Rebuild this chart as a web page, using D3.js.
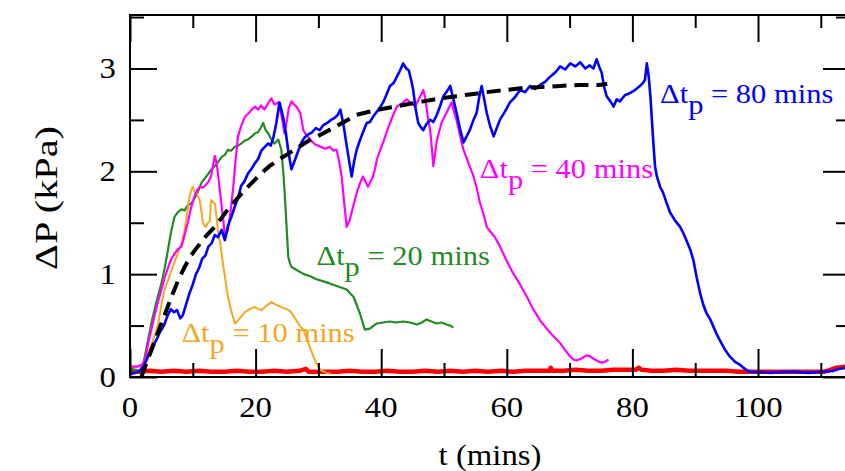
<!DOCTYPE html>
<html>
<head>
<meta charset="utf-8">
<script src="https://cdn.jsdelivr.net/npm/d3@7"></script>
<style>
  html, body { margin: 0; padding: 0; background: #fff; }
  svg { display: block; }
  svg text { font-family: "Liberation Serif", "Times New Roman", Times, serif; }
</style>
</head>
<body>
<div id="chart"></div>
<script>
// tick values
const xMajor = [0, 20, 40, 60, 80, 100, 120];
const xMinor = [10, 30, 50, 70, 90, 110];
const yMajor = [0, 1, 2, 3];
const yMinor = [0.5, 1.5, 2.5, 3.5];
const xLabels = [0, 20, 40, 60, 80, 100];

// series: [t (mins), dP (kPa)]
const red = [[0,0.06],[1.5,0.05],[3,0.06],[5,0.05],[7,0.06],[9,0.05],[11,0.06],[13,0.05],[15,0.05],[17,0.06],[19,0.05],[21,0.05],[23,0.06],[25,0.05],[27,0.06],[28,0.08],[28.5,0.05],[31,0.05],[33,0.05],[35,0.06],[37,0.05],[39,0.05],[41,0.06],[43,0.05],[45,0.05],[47,0.06],[49,0.05],[51,0.06],[53,0.05],[55,0.06],[57,0.05],[59,0.06],[61,0.05],[63,0.06],[65,0.06],[66.8,0.06],[67,0.09],[67.3,0.06],[69,0.06],[71,0.07],[73,0.06],[75,0.06],[77,0.07],[79,0.07],[80.5,0.07],[81,0.09],[81.5,0.07],[83,0.06],[85,0.06],[87,0.07],[89,0.06],[91,0.06],[93,0.06],[95,0.06],[97,0.05],[99,0.05],[101,0.05],[103,0.05],[105,0.05],[107,0.05],[109,0.05],[110.5,0.05],[111.5,0.07],[112.5,0.09],[114,0.1],[115,0.11]];

const orange = [[0,0.1],[1,0.1],[2,0.1],[2.5,0.15],[2.9,0.23],[3.5,0.33],[4,0.42],[4.5,0.52],[5,0.7],[5.5,0.85],[6.1,0.95],[6.6,1.04],[7.1,1.12],[7.6,1.2],[8.2,1.3],[8.7,1.43],[9.1,1.6],[9.5,1.76],[9.8,1.82],[10,1.85],[10.3,1.8],[10.6,1.79],[10.9,1.75],[11.1,1.72],[11.4,1.6],[11.6,1.5],[11.9,1.47],[12.1,1.46],[12.4,1.5],[12.7,1.51],[12.9,1.72],[13.2,1.7],[13.5,1.69],[13.8,1.55],[14,1.43],[14.3,1.33],[14.5,1.24],[14.8,1.1],[15.1,0.98],[15.4,0.86],[15.6,0.78],[16.1,0.65],[16.7,0.52],[17.2,0.55],[17.7,0.59],[18.3,0.63],[18.8,0.65],[19.4,0.67],[19.9,0.68],[20.4,0.66],[20.9,0.65],[21.7,0.69],[22.5,0.73],[23.3,0.7],[24.1,0.68],[24.9,0.66],[25.5,0.64],[26,0.6],[26.5,0.55],[27,0.5],[27.6,0.46],[28.4,0.33],[29.2,0.2],[29.8,0.12],[30.3,0.07],[31.3,0.04],[32,0.03]];

const green = [[0,0.08],[1,0.07],[1.5,0.05],[2.2,0.15],[3,0.4],[3.5,0.55],[4,0.68],[4.5,0.8],[5,0.91],[5.5,1.05],[6,1.22],[6.5,1.4],[7.1,1.56],[7.6,1.6],[8.2,1.63],[8.7,1.62],[9.2,1.67],[9.8,1.69],[10.3,1.74],[10.8,1.8],[11.4,1.89],[11.9,1.93],[12.4,1.97],[13,2.02],[13.5,2.05],[14,2.09],[14.6,2.14],[15.1,2.16],[15.6,2.21],[16.1,2.2],[16.7,2.24],[17.2,2.25],[17.7,2.27],[18.3,2.3],[18.8,2.31],[19.4,2.34],[19.9,2.37],[20.4,2.38],[20.8,2.42],[21.2,2.47],[21.6,2.4],[22,2.37],[22.5,2.31],[23,2.27],[23.6,2.31],[24.1,2.21],[24.4,2.0],[24.6,1.82],[24.9,1.5],[25.2,1.17],[25.5,1.1],[25.7,1.07],[26.3,1.05],[26.8,1.03],[27.7,1.0],[28.7,0.98],[29.7,0.95],[30.8,0.93],[31.8,0.91],[32.7,0.89],[33.6,0.87],[34.5,0.85],[35.1,0.81],[35.6,0.78],[36.1,0.7],[36.6,0.62],[37,0.54],[37.4,0.46],[38.2,0.47],[38.8,0.5],[39.3,0.52],[40.3,0.53],[41.4,0.54],[42.4,0.53],[43.5,0.54],[44.6,0.53],[45.7,0.51],[46.5,0.53],[47.2,0.56],[48,0.54],[48.8,0.52],[49.6,0.53],[50.4,0.51],[51,0.5],[51.5,0.48]];

const magenta = [[0,0.1],[1,0.1],[2,0.12],[2.5,0.2],[2.9,0.33],[3.4,0.46],[3.9,0.59],[4.4,0.72],[5,0.85],[5.5,0.96],[6.1,1.07],[6.6,1.15],[7.1,1.2],[7.6,1.24],[8.2,1.27],[8.7,1.38],[9.2,1.5],[9.7,1.64],[10.3,1.76],[10.7,1.82],[11.1,1.85],[11.6,1.84],[12.1,1.87],[12.5,1.9],[12.9,1.95],[13.2,2.05],[13.5,2.15],[13.8,2.08],[14,1.98],[14.3,1.82],[14.6,1.66],[14.9,1.5],[15.1,1.37],[15.4,1.4],[15.6,1.43],[16,1.6],[16.4,1.82],[16.8,2.1],[17.2,2.34],[17.7,2.44],[18.3,2.53],[18.8,2.56],[19.4,2.6],[19.9,2.63],[20.4,2.6],[20.9,2.64],[21.4,2.6],[22,2.66],[22.5,2.71],[23,2.65],[23.6,2.67],[24.1,2.55],[24.6,2.37],[25,2.5],[25.3,2.62],[25.7,2.68],[26.1,2.65],[26.5,2.63],[27.1,2.57],[27.6,2.4],[28.1,2.35],[28.7,2.31],[29.5,2.26],[30.3,2.24],[31.1,2.22],[31.8,2.24],[32.4,2.2],[32.9,2.21],[33.3,2.1],[33.7,1.95],[34.1,1.7],[34.5,1.46],[34.8,1.5],[35,1.53],[35.5,1.65],[36.1,1.79],[36.6,1.88],[37.1,1.95],[37.5,1.9],[37.9,1.85],[38.3,1.9],[38.7,1.95],[39,2.02],[39.3,2.11],[39.8,2.2],[40.3,2.28],[40.8,2.37],[41.4,2.47],[42,2.56],[42.5,2.63],[43.3,2.66],[44.1,2.7],[44.8,2.66],[45.4,2.63],[46,2.7],[46.7,2.79],[47,2.72],[47.2,2.63],[47.5,2.5],[47.8,2.4],[48.1,2.2],[48.3,2.05],[48.6,2.18],[48.8,2.28],[49.2,2.38],[49.6,2.47],[50,2.52],[50.4,2.57],[50.8,2.62],[51.2,2.67],[51.6,2.58],[52,2.5],[52.5,2.36],[53.1,2.21],[53.9,2.08],[54.7,1.95],[55.2,1.84],[55.7,1.7],[56.3,1.58],[56.8,1.46],[57.3,1.42],[58.1,1.36],[58.9,1.27],[59.9,1.14],[61,1.01],[62.1,0.9],[63.2,0.78],[64.2,0.66],[65.3,0.55],[66.1,0.49],[66.9,0.43],[67.7,0.38],[68.5,0.33],[69.3,0.26],[70.1,0.2],[70.6,0.17],[71.1,0.16],[71.9,0.18],[72.7,0.21],[73.3,0.2],[74,0.17],[74.6,0.15],[75.1,0.14],[75.7,0.15],[76.2,0.17]];

const blue = [[0,0.03],[0.8,0.04],[1.6,0.06],[2.3,0.12],[3,0.22],[3.6,0.3],[4.2,0.36],[4.8,0.44],[5.4,0.5],[6,0.6],[6.5,0.66],[7,0.63],[7.5,0.65],[8,0.57],[8.4,0.6],[9,0.72],[9.5,0.82],[10,0.9],[10.5,1.0],[11,1.06],[11.5,1.15],[12,1.18],[12.5,1.27],[13,1.3],[13.5,1.38],[14,1.36],[14.6,1.43],[15.1,1.33],[15.6,1.47],[16.1,1.55],[16.7,1.66],[17.2,1.74],[17.7,1.86],[18.2,1.9],[18.8,1.98],[19.3,2.02],[19.9,2.08],[20.4,2.12],[20.9,2.2],[21.5,2.24],[22,2.27],[22.4,2.25],[22.8,2.32],[23.3,2.47],[23.8,2.67],[24.1,2.6],[24.4,2.52],[24.8,2.38],[25.2,2.2],[25.7,2.02],[26.2,2.1],[26.8,2.2],[27.3,2.28],[27.8,2.33],[28.4,2.36],[29,2.38],[29.6,2.42],[30.2,2.4],[30.8,2.45],[31.4,2.47],[32,2.5],[32.6,2.52],[33.1,2.55],[33.5,2.6],[34,2.45],[34.5,2.25],[35,2.06],[35.3,1.95],[35.7,2.1],[36.1,2.21],[36.6,2.3],[37.1,2.38],[37.7,2.47],[38.2,2.48],[38.7,2.53],[39.3,2.58],[39.8,2.62],[40.3,2.67],[40.8,2.74],[41.4,2.83],[42,2.86],[42.5,2.92],[43,2.98],[43.5,3.05],[44,3.0],[44.4,2.98],[44.8,2.88],[45.1,2.79],[45.5,2.6],[45.9,2.47],[46.3,2.43],[46.7,2.4],[47.2,2.46],[47.8,2.5],[48.3,2.48],[48.8,2.54],[49.3,2.62],[49.9,2.73],[50.5,2.78],[51,2.83],[51.5,2.7],[52,2.57],[52.6,2.4],[53.1,2.28],[53.6,2.34],[54.1,2.4],[54.7,2.5],[55.2,2.57],[55.6,2.72],[56,2.83],[56.4,2.7],[56.8,2.57],[57.3,2.45],[57.9,2.34],[58.4,2.42],[58.9,2.5],[59.7,2.58],[60.5,2.67],[61.3,2.72],[62.1,2.79],[62.9,2.77],[63.7,2.83],[64.5,2.8],[65.3,2.84],[66.1,2.87],[66.9,2.92],[67.7,2.96],[68.5,3.02],[69.3,2.99],[70.1,3.05],[70.9,3.02],[71.7,3.06],[72.5,3.0],[73.2,3.03],[73.8,3.0],[74.3,3.09],[74.7,3.02],[75.1,2.96],[75.5,2.82],[75.9,2.73],[76.5,2.68],[77,2.63],[77.5,2.7],[78,2.68],[78.8,2.74],[79.6,2.76],[80.4,2.79],[81.2,2.83],[81.7,2.86],[82,2.89],[82.3,3.05],[82.6,2.92],[82.9,2.7],[83.3,2.31],[83.6,2.05],[83.9,1.95],[84.4,1.85],[84.9,1.79],[85.4,1.7],[86,1.6],[86.8,1.52],[87.6,1.46],[88.1,1.4],[88.6,1.33],[89.2,1.24],[89.7,1.14],[90.2,0.98],[90.8,0.81],[91.3,0.7],[91.8,0.62],[92.4,0.56],[92.9,0.49],[93.4,0.42],[93.9,0.36],[94.7,0.27],[95.5,0.2],[96.3,0.15],[97.1,0.12],[97.9,0.08],[98.7,0.05],[100,0.05],[102,0.04],[104,0.05],[106,0.05],[108,0.04],[110,0.05],[112,0.06],[113,0.08],[115,0.1]];

const fit = [[1.8,0],[2.6,0.13],[3.4,0.26],[4.2,0.39],[5,0.52],[5.8,0.65],[6.6,0.78],[7.6,0.93],[8.7,1.07],[9.7,1.18],[10.8,1.27],[12.1,1.37],[13.5,1.46],[14.5,1.54],[15.6,1.63],[17,1.73],[18.3,1.82],[19.6,1.9],[20.9,1.98],[22.2,2.05],[23.6,2.11],[24.9,2.16],[26.2,2.21],[28.5,2.3],[30.8,2.37],[33.5,2.46],[36.1,2.55],[38.8,2.59],[41.4,2.62],[44,2.65],[46.7,2.68],[49.4,2.71],[52,2.73],[54.4,2.75],[56.8,2.77],[59.7,2.79],[62.6,2.81],[65.5,2.82],[68.5,2.83],[71.5,2.84],[74.6,2.84],[76,2.85]];

const labels = [
  { text: "10", t: 8.2, v: 0.345, color: "#f5a623" },
  { text: "20", t: 29.7, v: 1.09, color: "#228b22" },
  { text: "40", t: 55.7, v: 1.935, color: "#ff00ff" },
  { text: "80", t: 84.4, v: 2.66, color: "#0000ff" }
];

const width = 845, height = 471;
const m = { left: 130, right: 850, top: 15, bottom: 377 };

const svg = d3.select("#chart").append("svg")
  .attr("width", width)
  .attr("height", height);

const x = d3.scaleLinear().domain([0, 114.65]).range([m.left, m.right]);
const y = d3.scaleLinear().domain([0, 3.52]).range([m.bottom, m.top]);

svg.append("clipPath").attr("id", "plot")
  .append("rect")
  .attr("x", m.left).attr("y", m.top)
  .attr("width", m.right - m.left).attr("height", m.bottom - m.top);

const line = d3.line().x(d => x(d[0])).y(d => y(d[1]));

const g = svg.append("g").attr("clip-path", "url(#plot)");

const series = [
  { data: red, color: "#ff0000", w: 4.5 },
  { data: green, color: "#228b22", w: 2.2 },
  { data: orange, color: "#f5a623", w: 2 },
  { data: magenta, color: "#ff00ff", w: 2.2 },
  { data: blue, color: "#0000ff", w: 2.6 }
];

series.forEach(s => {
  g.append("path")
    .datum(s.data)
    .attr("d", line)
    .attr("fill", "none")
    .attr("stroke", s.color)
    .attr("stroke-width", s.w)
    .attr("stroke-linejoin", "round");
});

g.append("path")
  .datum(fit)
  .attr("d", line)
  .attr("fill", "none")
  .attr("stroke", "#000")
  .attr("stroke-width", 4)
  .attr("stroke-dasharray", "14,8");

// ticks pointing inward on all four sides
function ticks(axis, values, size, tx, ty) {
  const a = svg.append("g")
    .attr("transform", `translate(${tx},${ty})`)
    .call(axis.tickValues(values).tickSize(size).tickFormat(""));
  a.select(".domain").remove();
  a.selectAll("line").attr("stroke", "#000").attr("stroke-width", 2);
}
ticks(d3.axisBottom(x), xMajor, -28, 0, m.bottom);
ticks(d3.axisBottom(x), xMinor, -14, 0, m.bottom);
ticks(d3.axisTop(x), xMajor, -27, 0, m.top);
ticks(d3.axisTop(x), xMinor, -13, 0, m.top);
ticks(d3.axisLeft(y), yMajor, -27, m.left, 0);
ticks(d3.axisLeft(y), yMinor, -14, m.left, 0);
ticks(d3.axisRight(y), yMajor, -27, m.right, 0);
ticks(d3.axisRight(y), yMinor, -14, m.right, 0);

svg.append("rect")
  .attr("x", m.left).attr("y", m.top)
  .attr("width", m.right - m.left).attr("height", m.bottom - m.top)
  .attr("fill", "none")
  .attr("stroke", "#000")
  .attr("stroke-width", 2);

// text drawn a little wider than normal, like the original
function stext(px, py, str, anchor, size) {
  return svg.append("text")
    .attr("transform", `translate(${px},${py}) scale(1.13,1)`)
    .attr("text-anchor", anchor)
    .attr("font-size", size)
    .attr("fill", "#000")
    .text(str);
}

xLabels.forEach(t => stext(x(t), 417, String(t), "middle", 29));
yMajor.forEach(v => stext(116, y(v) + 10, String(v), "end", 29));

stext((m.left + m.right) / 2, 465, "t (mins)", "middle", 29);

svg.append("text")
  .attr("transform", `translate(57,${(m.top + m.bottom) / 2 + 2}) rotate(-90)`)
  .attr("text-anchor", "middle")
  .attr("font-size", 31)
  .attr("textLength", 144)
  .attr("lengthAdjust", "spacingAndGlyphs")
  .text("ΔP (kPa)");

// Δt_p annotations
labels.forEach(l => {
  const txt = svg.append("text")
    .attr("transform", `translate(${x(l.t)},${y(l.v)}) scale(1.13,1)`)
    .attr("font-size", 27)
    .attr("fill", l.color);
  txt.append("tspan").text("Δt");
  txt.append("tspan").attr("dy", 11).text("p");
  txt.append("tspan").attr("dy", -11).text(" = " + l.text + " mins");
});
</script>
</body>
</html>
